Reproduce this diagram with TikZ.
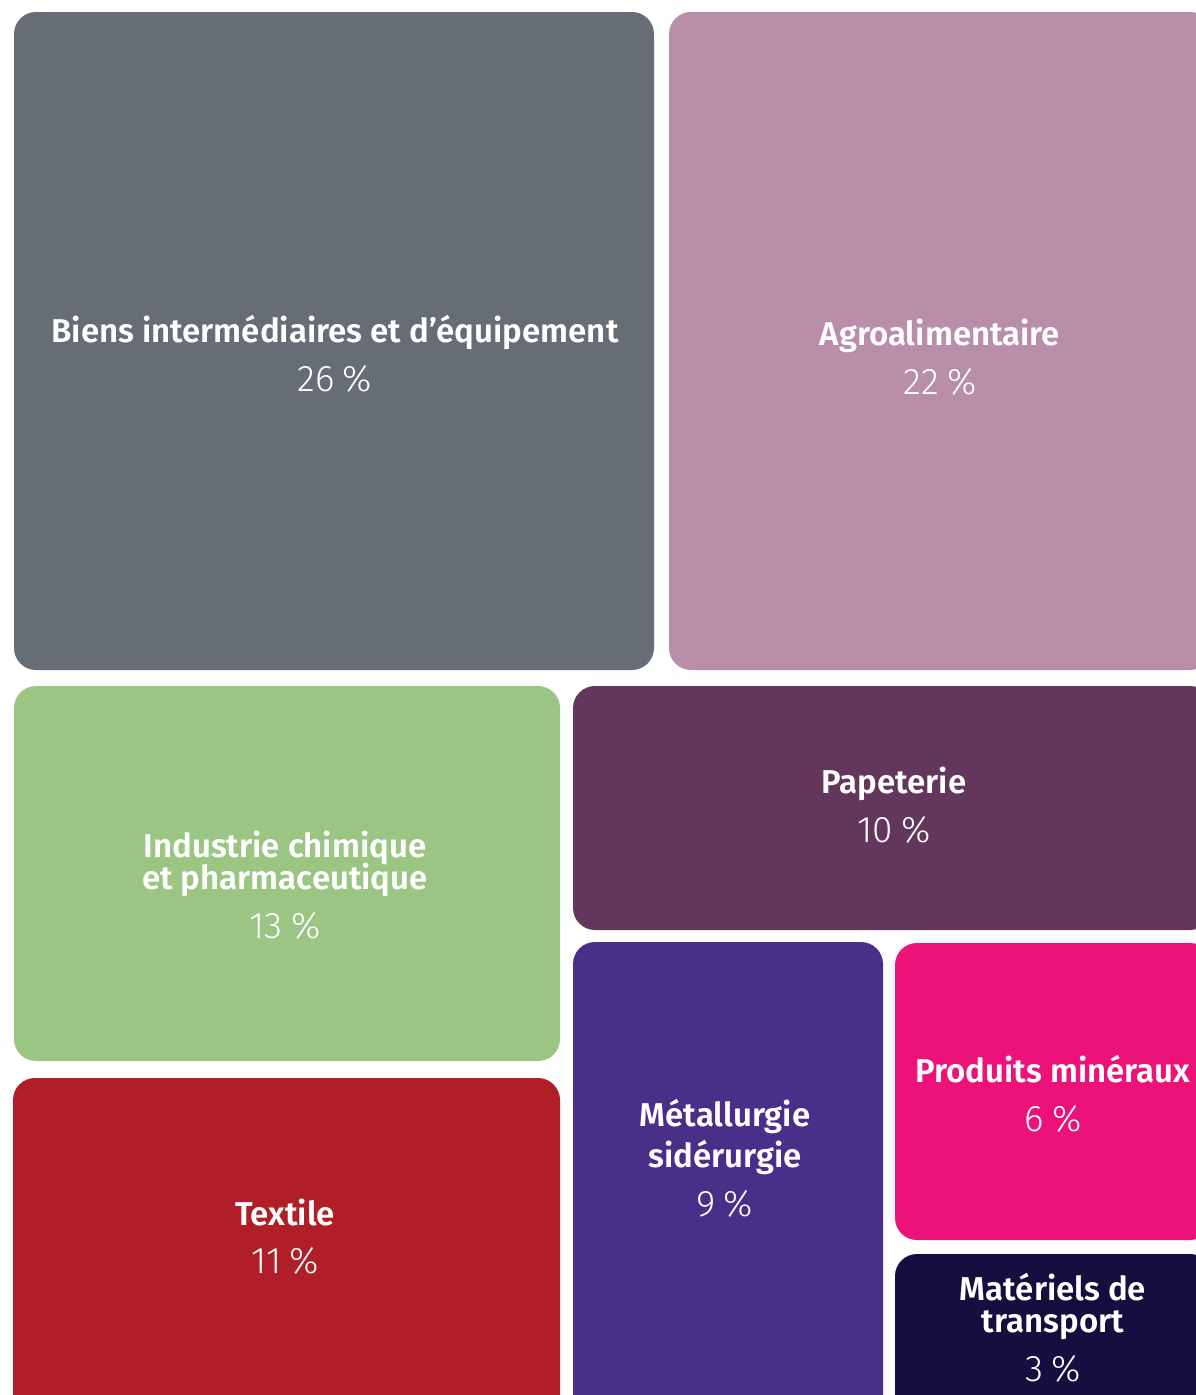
\documentclass[tikz,border=0pt]{standalone}
\usepackage{fontspec}
\setmainfont{Fira Sans}[BoldFont={Fira Sans SemiBold}]
\newfontfamily\pctfont{Fira Sans Light}

\definecolor{grisbiens}{HTML}{676D75}
\definecolor{roseagro}{HTML}{B98EA9}
\definecolor{vertchimie}{HTML}{9AC583}
\definecolor{prunepapier}{HTML}{63375B}
\definecolor{rougetextile}{HTML}{B01F27}
\definecolor{violetmetal}{HTML}{4A2F89}
\definecolor{magentamineral}{HTML}{ED127A}
\definecolor{marinetransport}{HTML}{140F3F}

\begin{document}
\begin{tikzpicture}[x=1pt, y=-1pt,
    tile/.style={rectangle, rounded corners=22pt, inner sep=0pt, outer sep=0pt},
    title/.style={anchor=base, text=white, font=\fontsize{33}{33}\selectfont\bfseries},
    pct/.style={anchor=base, text=white, font=\fontsize{37}{37}\selectfont\pctfont}]
  \useasboundingbox (0,0) rectangle (1196,1395);
  \clip (0,0) rectangle (1196,1395);

  % tiles
  \node [tile, fill=grisbiens, minimum width=640pt, minimum height=658pt] (biens) at (334,341) {};
  \node [tile, fill=roseagro, minimum width=543pt, minimum height=658pt] (agro) at (940.5,341) {};
  \node [tile, fill=vertchimie, minimum width=546pt, minimum height=375pt] (chimie) at (287,873.5) {};
  \node [tile, fill=prunepapier, minimum width=639pt, minimum height=244pt] (papeterie) at (892.5,808) {};
  \node [tile, fill=rougetextile, minimum width=547pt, minimum height=342pt] (textile) at (286.5,1249) {};
  \node [tile, fill=violetmetal, minimum width=310pt, minimum height=478pt] (metal) at (728,1181) {};
  \node [tile, fill=magentamineral, minimum width=317pt, minimum height=297pt] (mineraux) at (1053.5,1091.5) {};
  \node [tile, fill=marinetransport, minimum width=317pt, minimum height=166pt] (transport) at (1053.5,1337) {};

  % labels
  \node [title] (biens-t) at (335,342) {Biens intermédiaires et d’équipement};
  \node [pct] (biens-p) at (335,391) {26\hspace{0.22em}\%};
  \node [title] (agro-t) at (940,345) {Agroalimentaire};
  \node [pct] (agro-p) at (940,394) {22\hspace{0.22em}\%};
  \node [title] (chimie-t1) at (285,857) {Industrie chimique};
  \node [title] (chimie-t2) at (285,889) {et pharmaceutique};
  \node [pct] (chimie-p) at (285,938) {13\hspace{0.22em}\%};
  \node [title] (papeterie-t) at (894,793) {Papeterie};
  \node [pct] (papeterie-p) at (894,842) {10\hspace{0.22em}\%};
  \node [title] (textile-t) at (285,1225) {Textile};
  \node [pct] (textile-p) at (285,1273) {11\hspace{0.22em}\%};
  \node [title] (metal-t1) at (725,1126) {Métallurgie};
  \node [title] (metal-t2) at (725,1167) {sidérurgie};
  \node [pct] (metal-p) at (725,1216) {9\hspace{0.22em}\%};
  \node [title] (mineraux-t) at (1053,1082) {Produits minéraux};
  \node [pct] (mineraux-p) at (1053,1131) {6\hspace{0.22em}\%};
  \node [title] (transport-t1) at (1053,1300) {Matériels de};
  \node [title] (transport-t2) at (1053,1332) {transport};
  \node [pct] (transport-p) at (1053,1381) {3\hspace{0.22em}\%};
\end{tikzpicture}
\end{document}
